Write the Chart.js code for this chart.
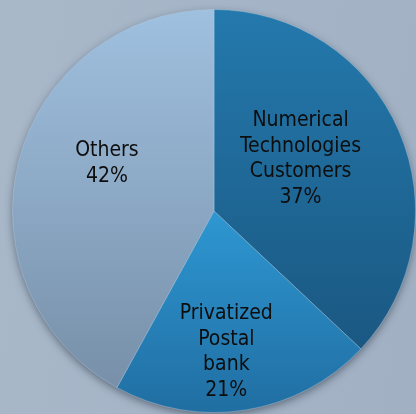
<!DOCTYPE html>
<html>
<head>
<meta charset="utf-8">
<script src="https://cdn.jsdelivr.net/npm/chart.js@4.4.1/dist/chart.umd.min.js"></script>
<style>
  html, body { margin: 0; padding: 0; }
  body {
    width: 416px; height: 414px; overflow: hidden;
    background: linear-gradient(100deg, #a8b8c9 0%, #a5b5c7 50%, #a1b1c3 100%);
  }
  #wrap { position: relative; width: 416px; height: 414px; }
</style>
</head>
<body>
<div id="wrap"><canvas id="shareChart"></canvas></div>
<script>
const sliceNames = [
    ['Numerical', 'Technologies', 'Customers'],
    ['Privatized', 'Postal', 'bank'],
    ['Others']
];
const sharePercent = [37, 21, 42];

// top / bottom colours of each slice's vertical gradient
const sliceTop = ['#2479ad', '#2e97d2', '#9fc0df'];
const sliceBottom = ['#1a5882', '#206ea2', '#7890a9'];

// label anchor per slice: [fraction of radius, angle in degrees clockwise from 12 o'clock]
const labelAnchor = [[0.5, 59], [0.7, 175], [0.58, 294]];

function pieGeometry(chart) {
    const a = chart.chartArea;
    return {
        cx: (a.left + a.right) / 2,
        cy: (a.top + a.bottom) / 2,
        r: Math.min(a.right - a.left, a.bottom - a.top) / 2
    };
}

function sliceGradient(context) {
    const chart = context.chart;
    const i = context.dataIndex;
    if (!chart.chartArea) return sliceTop[i];
    const g = pieGeometry(chart);
    const total = sharePercent.reduce((s, v) => s + v, 0);
    let start = 0;
    for (let k = 0; k < i; k++) start += sharePercent[k];
    const a0 = start / total * 360;
    const a1 = (start + sharePercent[i]) / total * 360;
    let ymin = g.cy, ymax = g.cy;
    for (let d = a0; d <= a1; d += 1) {
        const y = g.cy - g.r * Math.cos(d * Math.PI / 180);
        ymin = Math.min(ymin, y);
        ymax = Math.max(ymax, y);
    }
    const grad = chart.ctx.createLinearGradient(0, ymin, 0, ymax);
    grad.addColorStop(0, sliceTop[i]);
    grad.addColorStop(1, sliceBottom[i]);
    return grad;
}

// soft drop shadow under the whole pie
const pieShadow = {
    id: 'pieShadow',
    beforeDatasetsDraw(chart) {
        const g = pieGeometry(chart);
        const ctx = chart.ctx;
        ctx.save();
        ctx.shadowColor = 'rgba(20, 30, 45, 0.5)';
        ctx.shadowBlur = 8;
        ctx.shadowOffsetY = 3;
        ctx.beginPath();
        ctx.arc(g.cx, g.cy, g.r - 1, 0, Math.PI * 2);
        ctx.fillStyle = '#5a6a7c';
        ctx.fill();
        ctx.restore();
    }
};

const sliceLabels = {
    id: 'sliceLabels',
    afterDatasetsDraw(chart) {
        const g = pieGeometry(chart);
        const ctx = chart.ctx;
        ctx.save();
        ctx.font = '21px "DejaVu Sans Condensed", Tahoma, sans-serif';
        ctx.fillStyle = '#0d0d0d';
        ctx.textAlign = 'center';
        ctx.textBaseline = 'middle';
        const lineH = 25.5;
        sliceNames.forEach((name, i) => {
            const [f, deg] = labelAnchor[i];
            const rad = deg * Math.PI / 180;
            const x = g.cx + f * g.r * Math.sin(rad);
            const y = g.cy - f * g.r * Math.cos(rad);
            const lines = name.concat([sharePercent[i] + '%']);
            const y0 = y - (lines.length - 1) * lineH / 2;
            lines.forEach((t, k) => ctx.fillText(t, x, y0 + k * lineH));
        });
        ctx.restore();
    }
};

new Chart(document.getElementById('shareChart'), {
    type: 'pie',
    data: {
        labels: sliceNames.map(n => n.join(' ')),
        datasets: [{
            data: sharePercent,
            backgroundColor: sliceGradient,
            borderColor: 'rgba(190, 215, 235, 0.35)',
            borderWidth: 1
        }]
    },
    options: {
        responsive: true,
        maintainAspectRatio: false,
        animation: false,
        layout: { padding: { left: 12, right: 0, top: 9, bottom: 1 } },
        plugins: {
            legend: { display: false },
            tooltip: { enabled: false }
        }
    },
    plugins: [pieShadow, sliceLabels]
});
</script>
</body>
</html>
